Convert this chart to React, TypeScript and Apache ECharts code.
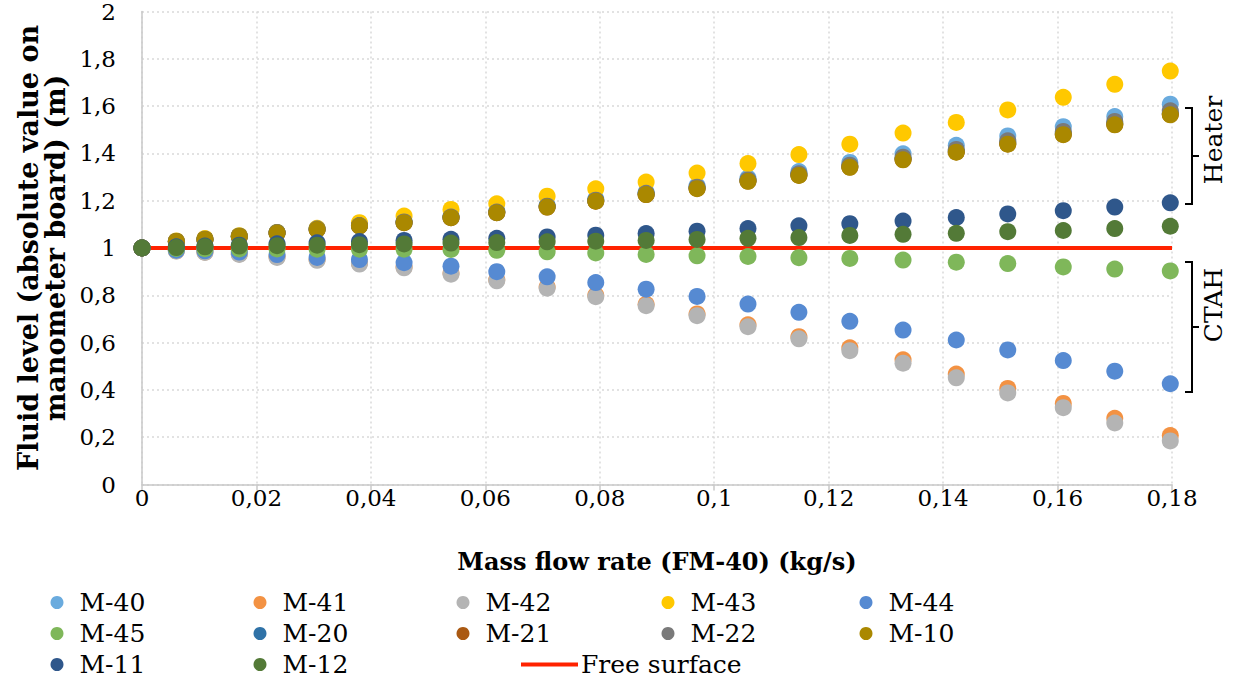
import React, { useEffect, useRef } from "react";
import * as echarts from "echarts";

const FONT = "'DejaVu Serif', 'Liberation Serif', serif";

const flowRate = [0, 0.006, 0.011, 0.017, 0.0236, 0.0306, 0.038, 0.0458, 0.054, 0.062, 0.0708, 0.0793, 0.0881, 0.097, 0.1059, 0.1148, 0.1237, 0.133, 0.1423, 0.1513, 0.161, 0.17, 0.1797];

const m40 = [1.0, 1.029, 1.038, 1.051, 1.066, 1.082, 1.097, 1.112, 1.134, 1.156, 1.181, 1.207, 1.236, 1.263, 1.296, 1.323, 1.362, 1.398, 1.434, 1.474, 1.513, 1.556, 1.608];
const m41 = [1.0, 0.988, 0.983, 0.975, 0.963, 0.951, 0.936, 0.92, 0.893, 0.866, 0.835, 0.8, 0.762, 0.721, 0.675, 0.625, 0.578, 0.527, 0.467, 0.406, 0.343, 0.28, 0.207];
const m42 = [1.0, 0.987, 0.981, 0.973, 0.96, 0.948, 0.932, 0.916, 0.889, 0.861, 0.83, 0.794, 0.756, 0.714, 0.667, 0.616, 0.566, 0.513, 0.451, 0.387, 0.325, 0.26, 0.184];
const m43 = [1.0, 1.03, 1.04, 1.052, 1.066, 1.083, 1.107, 1.135, 1.163, 1.187, 1.219, 1.25, 1.279, 1.317, 1.357, 1.395, 1.439, 1.486, 1.531, 1.584, 1.637, 1.692, 1.748];
const m44 = [1.0, 0.991, 0.988, 0.983, 0.972, 0.96, 0.951, 0.938, 0.923, 0.9, 0.878, 0.854, 0.826, 0.795, 0.763, 0.728, 0.69, 0.653, 0.611, 0.569, 0.524, 0.479, 0.426];
const m45 = [1.0, 0.998, 0.997, 0.996, 0.996, 0.995, 0.995, 0.995, 0.994, 0.99, 0.984, 0.979, 0.973, 0.967, 0.964, 0.959, 0.956, 0.949, 0.94, 0.934, 0.92, 0.911, 0.903];
const m20 = [1.0, 1.027, 1.036, 1.049, 1.064, 1.079, 1.094, 1.108, 1.129, 1.15, 1.175, 1.2, 1.228, 1.254, 1.285, 1.31, 1.345, 1.378, 1.41, 1.445, 1.485, 1.527, 1.57];
const m21 = [1.0, 1.027, 1.036, 1.049, 1.063, 1.078, 1.093, 1.107, 1.128, 1.149, 1.173, 1.198, 1.226, 1.252, 1.283, 1.308, 1.342, 1.374, 1.406, 1.44, 1.48, 1.522, 1.565];
const m22 = [1.0, 1.028, 1.037, 1.05, 1.065, 1.08, 1.095, 1.11, 1.131, 1.152, 1.177, 1.202, 1.231, 1.257, 1.288, 1.314, 1.35, 1.384, 1.417, 1.453, 1.493, 1.535, 1.58];
const m10 = [1.0, 1.027, 1.036, 1.049, 1.063, 1.078, 1.093, 1.107, 1.128, 1.149, 1.173, 1.198, 1.226, 1.251, 1.282, 1.307, 1.341, 1.373, 1.405, 1.439, 1.479, 1.521, 1.563];
const m11 = [1.0, 1.005, 1.008, 1.012, 1.018, 1.022, 1.027, 1.032, 1.037, 1.041, 1.047, 1.054, 1.061, 1.071, 1.082, 1.094, 1.103, 1.114, 1.129, 1.144, 1.158, 1.173, 1.191];
const m12 = [1.0, 1.002, 1.005, 1.008, 1.01, 1.012, 1.014, 1.017, 1.021, 1.023, 1.026, 1.029, 1.032, 1.036, 1.041, 1.044, 1.053, 1.058, 1.062, 1.069, 1.074, 1.082, 1.092];

const freeSurfaceX = [0, 0.18];
const freeSurfaceY = [1, 1];

const yTicks = { min: 0, max: 2, interval: 0.2 };
const xTicks = { min: 0, max: 0.18, interval: 0.02 };

const markerSeries: { name: string; values: number[]; color: string }[] = [
  { name: "M-40", values: m40, color: "#6AABDE" },
  { name: "M-41", values: m41, color: "#F39243" },
  { name: "M-42", values: m42, color: "#B4B4B4" },
  { name: "M-43", values: m43, color: "#FFC800" },
  { name: "M-44", values: m44, color: "#568AD2" },
  { name: "M-45", values: m45, color: "#7FB75A" },
  { name: "M-20", values: m20, color: "#2F72A7" },
  { name: "M-21", values: m21, color: "#AA5912" },
  { name: "M-22", values: m22, color: "#7A7A7A" },
  { name: "M-10", values: m10, color: "#AA8800" },
  { name: "M-11", values: m11, color: "#2F578B" },
  { name: "M-12", values: m12, color: "#537A37" },
];

// icon centre x of each legend column
const legendColumns = [
  { items: ["M-40", "M-45", "M-11"], center: 57 },
  { items: ["M-41", "M-20", "M-12"], center: 260 },
  { items: ["M-42", "M-21"], center: 463 },
  { items: ["M-43", "M-22"], center: 668 },
  { items: ["M-44", "M-10"], center: 866 },
];

const fmt = (v: number) => String(+v.toFixed(2)).replace(".", ",");

function buildOption() {
  const scatter = markerSeries.map((s) => ({
    name: s.name,
    type: "scatter",
    symbol: "circle",
    symbolSize: 17,
    itemStyle: { color: s.color, opacity: 1 },
    data: flowRate.map((x, i) => [x, s.values[i]]),
    z: 3,
  }));
  const lineSeries = {
    name: "Free surface",
    type: "line",
    symbol: "none",
    showSymbol: false,
    lineStyle: { color: "#FF2200", width: 4 },
    itemStyle: { color: "#FF2200" },
    data: freeSurfaceX.map((x, i) => [x, freeSurfaceY[i]]),
    z: 3,
  };
  const series = [...scatter.slice(0, 6), lineSeries, ...scatter.slice(6)];

  const legendText = { fontFamily: FONT, fontSize: 25, color: "#000", lineHeight: 25 };
  const legends: any[] = legendColumns.map((c) => ({
    orient: "vertical",
    left: c.center - 6.5,
    top: 590,
    padding: 0,
    itemGap: 6,
    itemWidth: 13,
    itemHeight: 13,
    icon: "circle",
    selectedMode: false,
    data: c.items,
    textStyle: { ...legendText, padding: [0, 0, 0, 11] },
  }));
  legends.push({
    orient: "vertical",
    left: 521,
    top: 652,
    padding: 0,
    itemWidth: 57,
    itemHeight: 4,
    icon: "rect",
    selectedMode: false,
    data: [{ name: "Free surface", icon: "rect", itemStyle: { color: "#FF2200" } }],
    textStyle: { ...legendText, padding: [0, 0, 0, -2] },
  });

  const bracket = (y1: number, y2: number) => {
    const mid = (y1 + y2) / 2;
    return [
      {
        type: "polyline",
        shape: { points: [[1185, y1], [1192, y1], [1192, y2], [1185, y2]] },
        style: { stroke: "#000", lineWidth: 2, fill: null },
      },
      {
        type: "line",
        shape: { x1: 1192, y1: mid, x2: 1199, y2: mid },
        style: { stroke: "#000", lineWidth: 2 },
      },
    ];
  };

  return {
    animation: false,
    backgroundColor: "#fff",
    grid: { left: 142, top: 9.5, width: 1030, height: 475, containLabel: false },
    xAxis: {
      type: "value",
      min: xTicks.min,
      max: xTicks.max,
      interval: xTicks.interval,
      name: "Mass flow rate (FM-40) (kg/s)",
      nameLocation: "middle",
      nameGap: 65,
      nameTextStyle: { fontFamily: FONT, fontSize: 24, fontWeight: "bold", color: "#000" },
      axisLine: { show: true, lineStyle: { color: "#C8C8C8", width: 1.5 } },
      axisTick: { show: true, length: 6, lineStyle: { color: "#C8C8C8", width: 1.5 } },
      axisLabel: { fontFamily: FONT, fontSize: 23, color: "#000", margin: 2, formatter: fmt },
      splitLine: { show: true, lineStyle: { color: "#D9D9D9", type: [2, 3], width: 1.5 } },
    },
    yAxis: {
      type: "value",
      min: yTicks.min,
      max: yTicks.max,
      interval: yTicks.interval,
      name: "Fluid level (absolute value on\nmanometer board) (m)",
      nameLocation: "middle",
      nameGap: 72,
      nameTextStyle: { fontFamily: FONT, fontSize: 27, fontWeight: "bold", color: "#000", lineHeight: 27, align: "center" },
      axisLine: { show: true, lineStyle: { color: "#C8C8C8", width: 1.5 } },
      axisTick: { show: false },
      axisLabel: { fontFamily: FONT, fontSize: 23, color: "#000", margin: 26, padding: [6, 0, 0, 0], formatter: fmt },
      splitLine: { show: true, lineStyle: { color: "#D9D9D9", type: [2, 3], width: 1.5 } },
    },
    legend: legends,
    series,
    graphic: [
      ...bracket(108, 204),
      ...bracket(262, 392),
      {
        type: "text",
        x: 1213,
        y: 140,
        rotation: Math.PI / 2,
        style: { text: "Heater", fontFamily: FONT, fontSize: 25, fill: "#000", align: "center", verticalAlign: "middle" },
      },
      {
        type: "text",
        x: 1213,
        y: 305,
        rotation: Math.PI / 2,
        style: { text: "CTAH", fontFamily: FONT, fontSize: 25, fill: "#000", align: "center", verticalAlign: "middle" },
      },
    ],
  };
}

export default function App() {
  const ref = useRef<HTMLDivElement>(null);
  useEffect(() => {
    const chart = echarts.init(ref.current!, null, { renderer: "svg" });
    chart.setOption(buildOption() as any);
    return () => chart.dispose();
  }, []);
  return <div ref={ref} style={{ position: "fixed", left: 0, top: 0, width: 1235, height: 683 }} />;
}
